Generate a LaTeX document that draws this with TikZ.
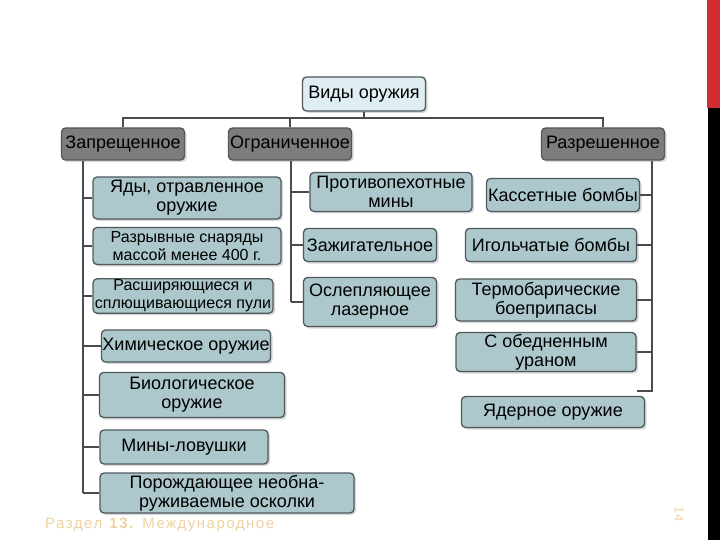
\documentclass[tikz,border=0pt]{standalone}
\usepackage{fontspec}
\setmainfont{Liberation Sans}
\newfontfamily\podvalfont[LetterSpace=10]{Liberation Sans}
\usetikzlibrary{shadows}

\definecolor{ramka}{RGB}{80,88,92}
\definecolor{zalivka}{RGB}{172,200,204}
\definecolor{koren}{RGB}{222,238,242}
\definecolor{kateg}{RGB}{125,125,125}
\definecolor{svyaz}{RGB}{70,76,80}
\definecolor{podval}{RGB}{240,210,160}
\definecolor{krasn}{RGB}{210,45,50}

\begin{document}
\begin{tikzpicture}[x=1pt, y=-1pt, font=\fontsize{18}{19}\selectfont,
                    ten/.style={drop shadow={shadow xshift=2pt, shadow yshift=-2pt, fill=black!25, opacity=0.6}},
                    vid/.style={ten, draw=ramka, line width=1.3pt, rounded corners=4pt, fill=zalivka,
                                align=center, inner sep=1pt},
                    melk/.style={vid, font=\fontsize{16}{18}\selectfont},
                    kat/.style={vid, fill=kateg, minimum width=123pt, minimum height=32pt},
                    koren/.style={vid, fill=koren, minimum width=123pt, minimum height=34pt},
                    con/.style={draw=svyaz, line width=1.6pt}]
  \useasboundingbox (0,0) rectangle (720,540);
  \fill[white] (0,0) rectangle (720,540);
  % side bar
  \fill[krasn] (707,0) rectangle (720,108);
  \fill[black] (708,108) rectangle (720,540);

  % top levels
  \node[koren] (vidy) at (364,94) {Виды оружия};
  \node[kat] (zapr) at (123,144) {Запрещенное};
  \node[kat] (ogr)  at (290,144) {Ограниченное};
  \node[kat] (razr) at (603,144) {Разрешенное};

  % prohibited
  \node[vid,  minimum width=188pt, minimum height=42pt] (z1) at (187,198) {Яды, отравленное\\оружие};
  \node[melk, minimum width=188pt, minimum height=37pt] (z2) at (187,246) {Разрывные снаряды\\массой менее 400 г.};
  \node[melk, minimum width=180pt, minimum height=33pt] (z3) at (183,296) {Расширяющиеся и\\сплющивающиеся пули};
  \node[vid,  minimum width=164pt, minimum height=32pt] (z4) at (186,346) {Химическое оружие};
  \node[vid,  minimum width=185pt, minimum height=45pt] (z5) at (192,395) {Биологическое\\оружие};
  \node[vid,  minimum width=168pt, minimum height=34pt] (z6) at (184,447) {Мины-ловушки};
  \node[vid,  minimum width=254pt, minimum height=40pt] (z7) at (227,493) {Порождающее необна-\\руживаемые осколки};

  % restricted
  \node[vid, minimum width=162pt, minimum height=39pt] (o1) at (391,192) {Противопехотные\\мины};
  \node[vid, minimum width=133pt, minimum height=33pt] (o2) at (370,245) {Зажигательное};
  \node[vid, minimum width=133pt, minimum height=49pt] (o3) at (370,302) {Ослепляющее\\лазерное};

  % permitted
  \node[vid, minimum width=153pt, minimum height=33pt] (r1) at (563,195) {Кассетные бомбы};
  \node[vid, minimum width=171pt, minimum height=33pt] (r2) at (551,245) {Игольчатые бомбы};
  \node[vid, minimum width=181pt, minimum height=42pt] (r3) at (546,300) {Термобарические\\боеприпасы};
  \node[vid, minimum width=180pt, minimum height=39pt] (r4) at (546,352) {С обедненным\\ураном};
  \node[vid, minimum width=183pt, minimum height=31pt] (r5) at (553,412) {Ядерное оружие};

  % connectors
  \coordinate (shina) at (364,118);
  \coordinate (zniz) at (83,493);
  \coordinate (oniz) at (291,302);
  \coordinate (rniz) at (652,391);
  \coordinate (rhvost) at (637,391);
  \draw[con] (vidy) -- (shina);
  \draw[con] (shina) -| (zapr.north);
  \draw[con] (shina) -| (ogr.north);
  \draw[con] (shina) -| (razr.north);
  \draw[con] (zapr.south -| zniz) -- (zniz);
  \foreach \n in {z1,z2,z3,z4,z5,z6,z7} \draw[con] (\n.west) -- (\n.west -| zniz);
  \draw[con] (ogr.south -| oniz) -- (oniz);
  \foreach \n in {o1,o2,o3} \draw[con] (\n.west) -- (\n.west -| oniz);
  \draw[con] (razr.south -| rniz) -- (rniz) -- (rhvost);
  \foreach \n in {r1,r2,r3,r4} \draw[con] (\n.east) -- (\n.east -| rniz);

  % footer
  \node[anchor=west, text=podval, inner sep=0pt, font=\podvalfont\fontsize{15}{17}\selectfont] (razdel) at (45,525) {Раздел \textbf{13.} Международное};
  \node[rotate=-90, text=podval, font=\podvalfont\fontsize{13}{15}\selectfont] (nomer) at (679,514) {14};
\end{tikzpicture}
\end{document}
